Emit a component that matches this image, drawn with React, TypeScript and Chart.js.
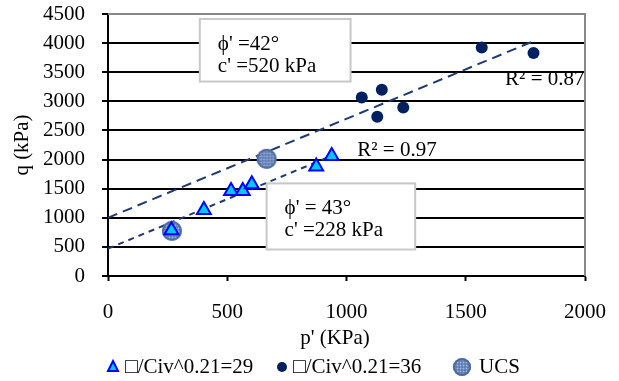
import React, { useEffect, useRef } from "react";
import { Chart, registerables } from "chart.js";

Chart.register(...registerables);

// ---- data ----
const pTri = [266, 402, 516, 565, 603, 873, 938];
const qTri = [785, 1135, 1461, 1461, 1577, 1879, 2063];
const pDot = [1064, 1129, 1148, 1238, 1567, 1784];
const qDot = [3066, 2734, 3198, 2893, 3925, 3829];
const pUcs = [268, 665];
const qUcs = [776, 2012];
const upperLineP = [0, 1784];
const upperLineQ = [1000, 4033];
const lowerLineP = [0, 940];
const lowerLineQ = [470, 2068];
const xMin = 0, xMax = 2000, xStep = 500;
const yMin = 0, yMax = 4500, yStep = 500;
const seriesNames = ["\u25A1/Civ^0.21=29", "\u25A1/Civ^0.21=36", "UCS"];
const xTitle = "p' (KPa)";
const yTitle = "q (kPa)";
const box1 = ["\u03D5' =42\u00B0", "c' =520 kPa"];
const box2 = ["\u03D5' = 43\u00B0", "c' =228 kPa"];
const r2Upper = "R\u00B2 = 0.87";
const r2Lower = "R\u00B2 = 0.97";

const FONT = "'Liberation Serif', 'Times New Roman', serif";
const FS = 21;
const NAVY = "#002060";
const TRI_FILL = "#00c8f5";
const TRI_BORDER = "#0000ff";

function makeUcsIcon(r: number): HTMLCanvasElement {
  const size = r * 2 + 4;
  const c = document.createElement("canvas");
  c.width = size;
  c.height = size;
  const ctx = c.getContext("2d")!;
  const cx = size / 2, cy = size / 2;
  ctx.beginPath();
  ctx.arc(cx, cy, r, 0, Math.PI * 2);
  ctx.fillStyle = "#9fb6dc";
  ctx.fill();
  ctx.save();
  ctx.clip();
  ctx.strokeStyle = "#3f5f9f";
  ctx.lineWidth = 0.8;
  for (let i = -r; i <= r; i += 3) {
    ctx.beginPath();
    ctx.moveTo(cx + i, cy - r);
    ctx.lineTo(cx + i, cy + r);
    ctx.stroke();
    ctx.beginPath();
    ctx.moveTo(cx - r, cy + i);
    ctx.lineTo(cx + r, cy + i);
    ctx.stroke();
  }
  ctx.restore();
  ctx.beginPath();
  ctx.arc(cx, cy, r - 1, 0, Math.PI * 2);
  ctx.strokeStyle = "#4d6b9c";
  ctx.lineWidth = 2;
  ctx.stroke();
  return c;
}

function toXY(ps: number[], qs: number[]) {
  return ps.map((p, i) => ({ x: p, y: qs[i] }));
}

export default function App() {
  const ref = useRef<HTMLCanvasElement | null>(null);

  useEffect(() => {
    const canvas = ref.current!;
    const ucsIcon = makeUcsIcon(10);
    const ucsLegendIcon = makeUcsIcon(9);

    const drawBox = (ctx: CanvasRenderingContext2D, x: number, y: number, w: number, h: number, lines: string[], tx: number, ty: number[]) => {
      ctx.save();
      ctx.fillStyle = "#ffffff";
      ctx.fillRect(x, y, w, h);
      ctx.strokeStyle = "#c8c8c8";
      ctx.lineWidth = 2;
      ctx.strokeRect(x, y, w, h);
      ctx.fillStyle = "#000";
      ctx.font = `${FS}px ${FONT}`;
      ctx.textAlign = "left";
      ctx.textBaseline = "middle";
      lines.forEach((l, i) => ctx.fillText(l, tx, ty[i]));
      ctx.restore();
    };

    const plugin = {
      id: "extras",
      beforeDatasetsDraw(chart: any) {
        const ctx = chart.ctx as CanvasRenderingContext2D;
        const { left, right, top, bottom } = chart.chartArea;
        const xs = chart.scales.x;
        const ys = chart.scales.y;
        ctx.save();
        ctx.strokeStyle = "#888888";
        ctx.lineWidth = 2;
        ctx.beginPath();
        ctx.moveTo(left, top);
        ctx.lineTo(right, top);
        ctx.lineTo(right, bottom);
        ctx.stroke();
        ctx.restore();
        const b1x = xs.getPixelForValue(385), b1y = ys.getPixelForValue(4415);
        const b1r = xs.getPixelForValue(1017), b1b = ys.getPixelForValue(3340);
        drawBox(ctx, b1x, b1y, b1r - b1x, b1b - b1y, box1, b1x + 18, [b1y + 26, b1y + 48]);
        const b2x = xs.getPixelForValue(665), b2y = ys.getPixelForValue(1590);
        const b2r = xs.getPixelForValue(1288), b2b = ys.getPixelForValue(455);
        drawBox(ctx, b2x, b2y, b2r - b2x, b2b - b2y, box2, b2x + 18, [b2y + 25, b2y + 47]);
      },
      afterDraw(chart: any) {
        const ctx = chart.ctx as CanvasRenderingContext2D;
        const xs = chart.scales.x;
        const ys = chart.scales.y;
        ctx.save();
        ctx.fillStyle = "#000";
        ctx.font = `${FS}px ${FONT}`;
        ctx.textBaseline = "middle";
        ctx.textAlign = "left";
        ctx.fillText(r2Upper, xs.getPixelForValue(1665), ys.getPixelForValue(3370));
        ctx.fillText(r2Lower, xs.getPixelForValue(1045), ys.getPixelForValue(2160));
        ctx.textAlign = "center";
        ctx.fillText(xTitle, 335, 338);
        ctx.save();
        ctx.translate(22, 145);
        ctx.rotate(-Math.PI / 2);
        ctx.fillText(yTitle, 0, 0);
        ctx.restore();
        const ly = 367;
        ctx.textAlign = "left";
        ctx.beginPath();
        ctx.moveTo(113, ly - 6);
        ctx.lineTo(118, ly + 4);
        ctx.lineTo(108, ly + 4);
        ctx.closePath();
        ctx.fillStyle = TRI_FILL;
        ctx.fill();
        ctx.strokeStyle = TRI_BORDER;
        ctx.lineWidth = 2;
        ctx.stroke();
        ctx.fillStyle = "#000";
        ctx.fillText(seriesNames[0], 125, ly);
        ctx.beginPath();
        ctx.arc(282, ly, 5, 0, Math.PI * 2);
        ctx.fillStyle = NAVY;
        ctx.fill();
        ctx.fillStyle = "#000";
        ctx.fillText(seriesNames[1], 293, ly);
        ctx.drawImage(ucsLegendIcon, 462 - ucsLegendIcon.width / 2, ly - ucsLegendIcon.height / 2);
        ctx.fillText(seriesNames[2], 479, ly);
        ctx.restore();
      },
    };

    const chart = new Chart(canvas, {
      type: "scatter",
      data: {
        datasets: [
          {
            label: seriesNames[0],
            data: toXY(pTri, qTri),
            pointStyle: "triangle",
            pointRadius: 8,
            backgroundColor: TRI_FILL,
            borderColor: TRI_BORDER,
            borderWidth: 2,
            order: 1,
          },
          {
            label: seriesNames[1],
            data: toXY(pDot, qDot),
            pointStyle: "circle",
            pointRadius: 6,
            backgroundColor: NAVY,
            borderColor: NAVY,
            borderWidth: 0,
            order: 2,
          },
          {
            label: seriesNames[2],
            data: toXY(pUcs, qUcs),
            pointStyle: ucsIcon as any,
            pointRadius: 10,
            order: 3,
          },
          {
            type: "line",
            label: "fit36",
            data: toXY(upperLineP, upperLineQ),
            borderColor: "#1f3a70",
            borderWidth: 2,
            borderDash: [10, 6],
            pointRadius: 0,
            showLine: true,
            fill: false,
            order: 4,
          } as any,
          {
            type: "line",
            label: "fit29",
            data: toXY(lowerLineP, lowerLineQ),
            borderColor: "#1f3a70",
            borderWidth: 2,
            borderDash: [6, 5],
            pointRadius: 0,
            showLine: true,
            fill: false,
            order: 5,
          } as any,
        ],
      },
      options: {
        animation: false,
        responsive: false,
        layout: { padding: { left: 0, right: 34, top: 14, bottom: 0 } },
        plugins: {
          legend: { display: false },
          tooltip: { enabled: false },
        },
        scales: {
          x: {
            type: "linear",
            min: xMin,
            max: xMax,
            afterFit: (s: any) => {
              s.height = 105;
              s.paddingLeft = 0;
              s.paddingRight = 0;
            },
            ticks: {
              stepSize: xStep,
              color: "#000",
              font: { family: FONT, size: FS },
              padding: 19,
              maxRotation: 0,
              autoSkip: false,
              callback: (v: any) => String(v),
            },
            grid: {
              drawOnChartArea: false,
              tickLength: 5,
              tickColor: "#000",
              tickWidth: 2,
            },
            border: { color: "#000", width: 2 },
          },
          y: {
            type: "linear",
            min: yMin,
            max: yMax,
            afterFit: (s: any) => {
              s.width = 108;
              s.paddingTop = 0;
              s.paddingBottom = 0;
            },
            ticks: {
              stepSize: yStep,
              color: "#000",
              font: { family: FONT, size: FS },
              padding: 17,
              autoSkip: false,
              callback: (v: any) => String(v),
            },
            grid: {
              color: (c: any) => (c.tick && c.tick.value === yMax ? "#888888" : "#000000"),
              lineWidth: 2,
              tickLength: 6,
              tickColor: "#000",
              tickWidth: 2,
            },
            border: { color: "#000", width: 2 },
          },
        },
      },
      plugins: [plugin],
    } as any);

    return () => chart.destroy();
  }, []);

  return (
    <div style={{ position: "absolute", left: 0, top: 0, width: 619, height: 381, background: "#fff" }}>
      <canvas ref={ref} width={619} height={381} style={{ display: "block" }} />
    </div>
  );
}
